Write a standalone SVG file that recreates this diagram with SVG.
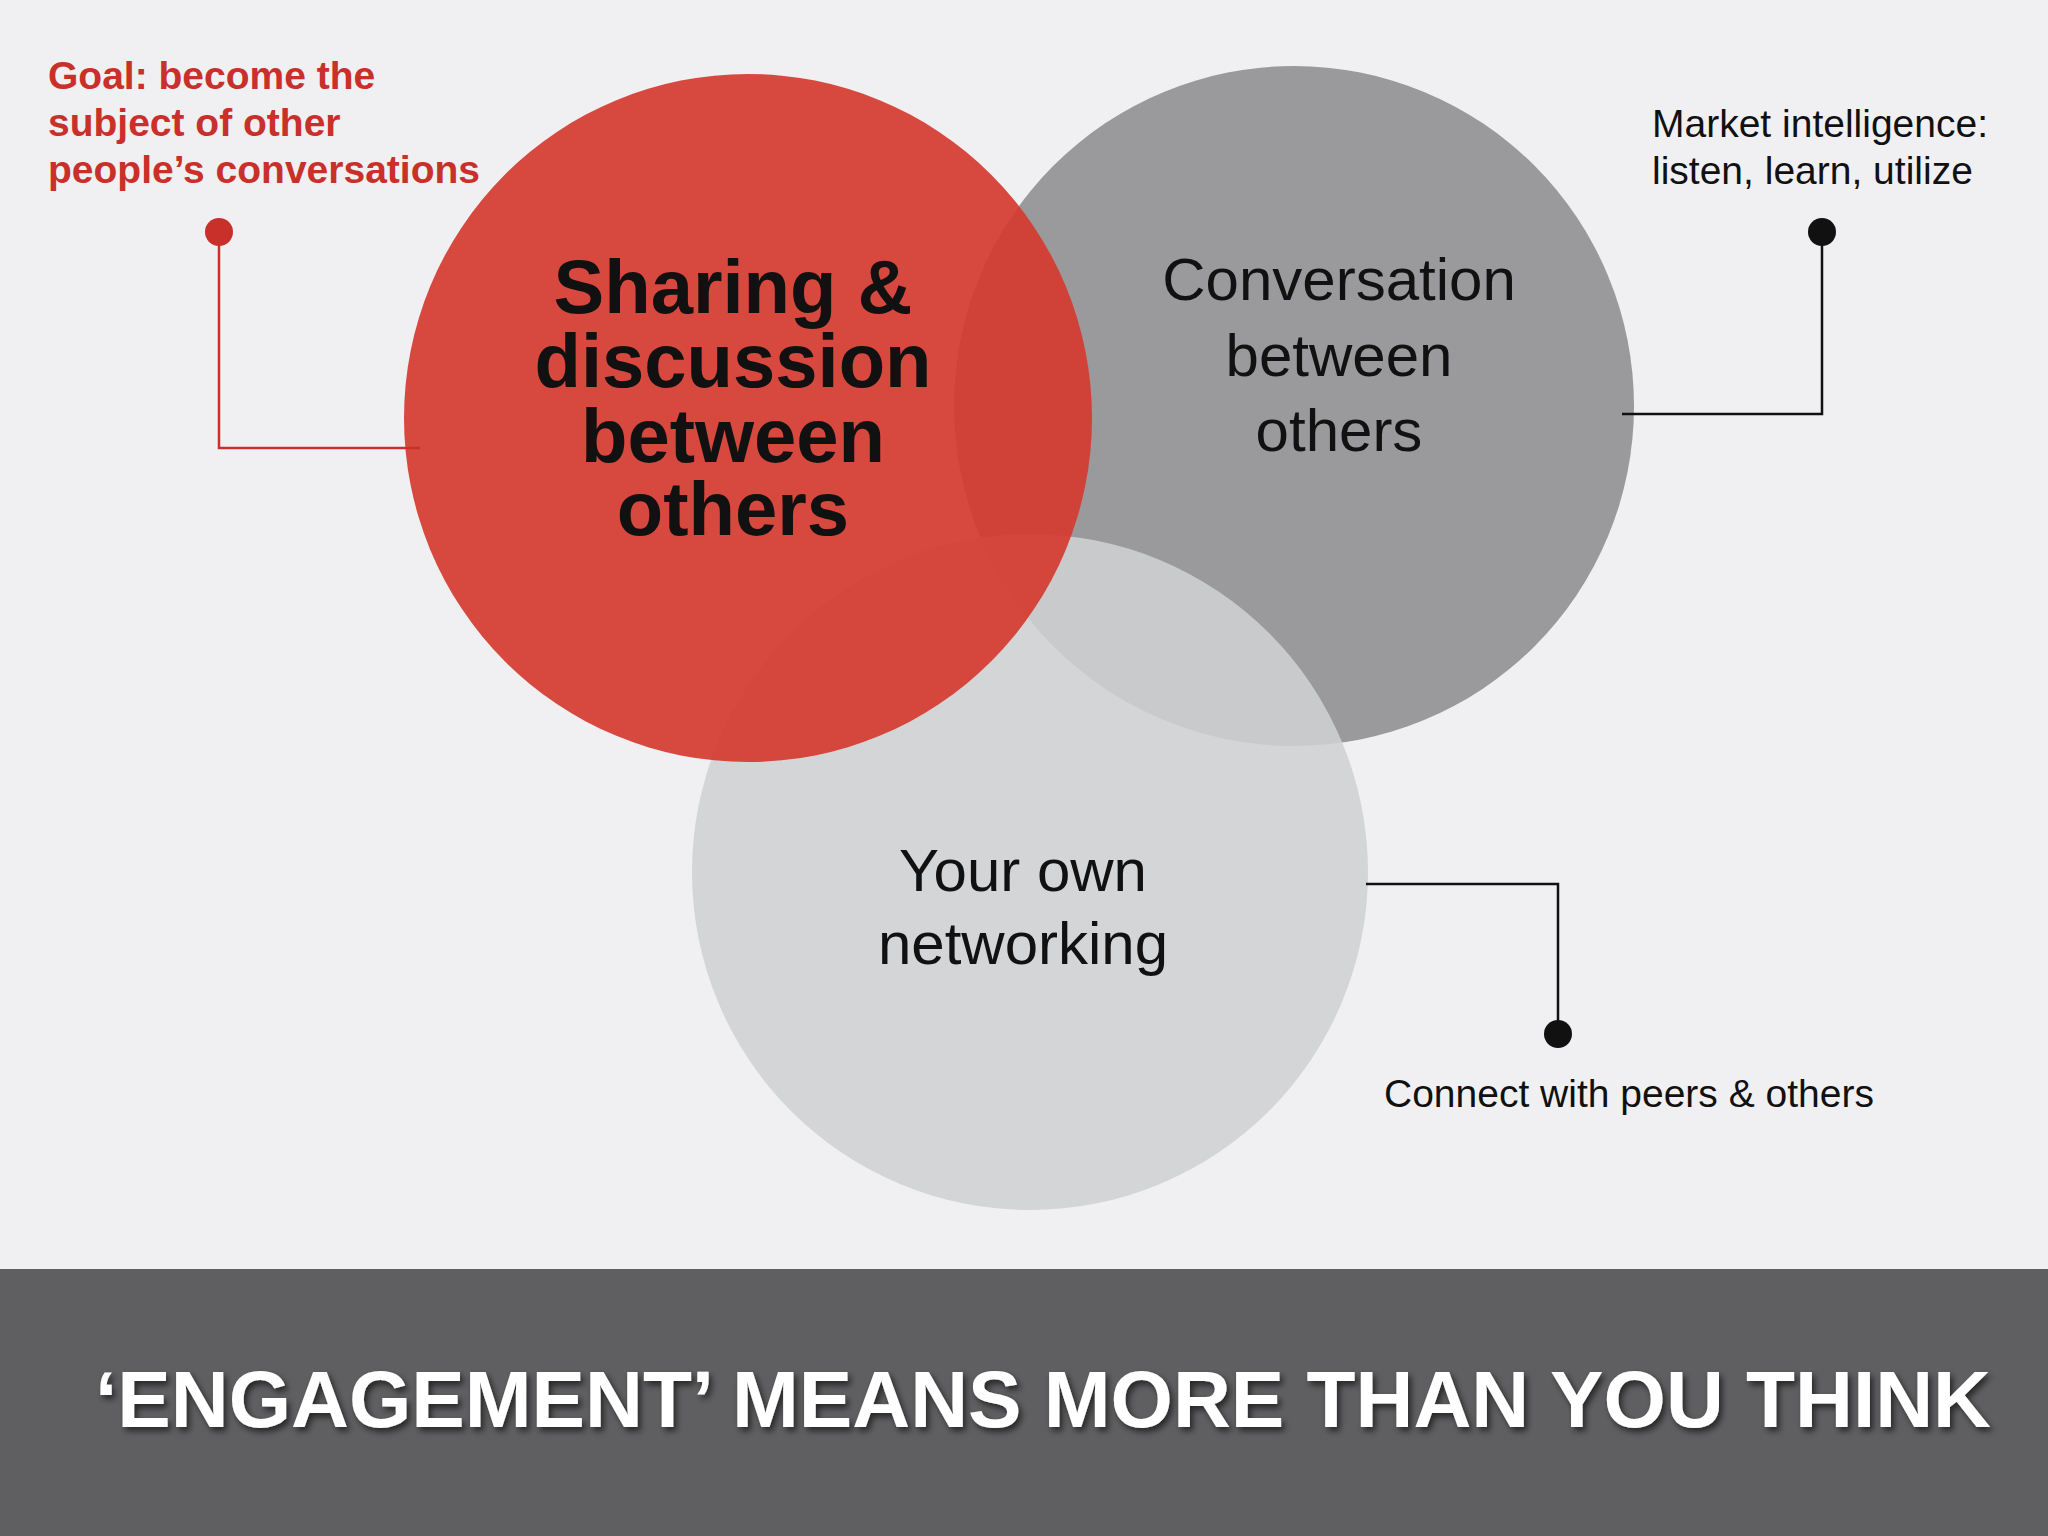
<svg xmlns="http://www.w3.org/2000/svg" width="2048" height="1536" viewBox="0 0 2048 1536">
<defs>
<style>
text{font-family:"Liberation Sans",Arial,sans-serif}
.red{fill:#c9302a;font-weight:bold;font-size:39px}
.blk{fill:#111;font-size:39px}
.mid{fill:#111;font-size:60px;text-anchor:middle}
.big{fill:#111;font-size:76px;font-weight:bold;text-anchor:middle}
</style>
<filter id="sh"><feDropShadow dx="3" dy="4" stdDeviation="3" flood-color="#000" flood-opacity="0.6"/></filter>
</defs>
<rect width="2048" height="1536" fill="#f0f0f2"/>
<g id="conversation"><circle cx="1294" cy="406" r="340" fill="#9a9a9c"/>
<text class="mid" x="1339" y="300">Conversation</text><text class="mid" x="1339" y="376">between</text><text class="mid" x="1339" y="451">others</text></g>
<g id="networking"><circle cx="1030" cy="872" r="338" fill="#cfd0d3" fill-opacity="0.88"/>
<text class="mid" x="1023" y="891">Your own</text><text class="mid" x="1023" y="964">networking</text></g>
<g id="sharing"><circle cx="748" cy="418" r="344" fill="#d53a2f" fill-opacity="0.92"/>
<text class="big" x="733" y="313">Sharing &amp;</text><text class="big" x="733" y="387">discussion</text><text class="big" x="733" y="462">between</text><text class="big" x="733" y="535">others</text></g>
<g id="connectors" fill="none" stroke-width="2.5">
<polyline points="219,232 219,448 420,448" stroke="#c9302a"/>
<polyline points="1822,232 1822,414 1622,414" stroke="#111"/>
<polyline points="1366,884 1558,884 1558,1034" stroke="#111"/>
<circle cx="219" cy="232" r="14" fill="#c9302a" stroke="none"/>
<circle cx="1822" cy="232" r="14" fill="#111" stroke="none"/>
<circle cx="1558" cy="1034" r="14" fill="#111" stroke="none"/>
</g>
<g id="goal"><text class="red" x="48" y="89">Goal: become the</text><text class="red" x="48" y="136">subject  of other</text><text class="red" x="48" y="183">people’s conversations</text></g>
<g id="market"><text class="blk" x="1652" y="137">Market intelligence:</text><text class="blk" x="1652" y="184">listen, learn, utilize</text></g>
<g id="connect"><text class="blk" x="1384" y="1107" font-size="40">Connect with peers &amp; others</text></g>
<g id="banner"><rect x="0" y="1269" width="2048" height="267" fill="#5f5f61"/>
<text x="1043" y="1427" fill="#fff" font-size="80" font-weight="bold" text-anchor="middle" textLength="1896" lengthAdjust="spacingAndGlyphs" filter="url(#sh)">‘ENGAGEMENT’ MEANS MORE THAN YOU THINK</text></g>
</svg>
